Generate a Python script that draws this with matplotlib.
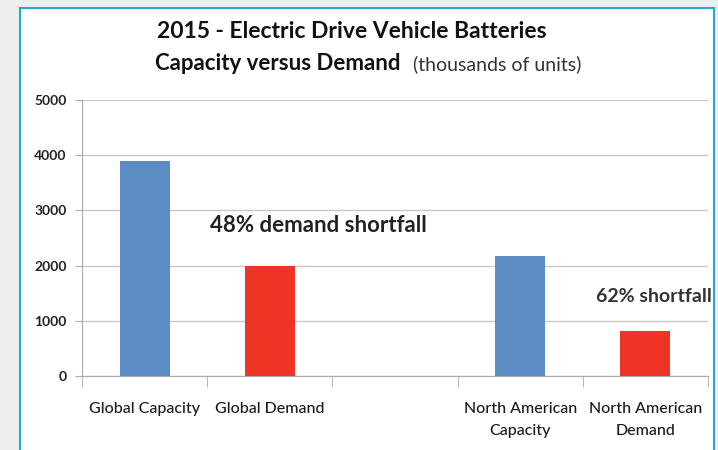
import matplotlib
matplotlib.use("Agg")
import matplotlib.pyplot as plt
from matplotlib.patches import Rectangle

categories = ["Global Capacity", "Global Demand", "", "North American\nCapacity", "North American\nDemand"]
values = [3900, 2000, None, 2180, 810]
colors = ["#5b8cc3", "#ee3424", None, "#5b8cc3", "#ee3424"]
y_ticks = [0, 1000, 2000, 3000, 4000, 5000]

plt.rcParams['font.family'] = ['Lato', 'DejaVu Sans']

fig = plt.figure(figsize=(7.18, 4.5), dpi=100)
fig.patch.set_facecolor("#eeeeee")
# white panel with light-blue frame
fig.patches.append(Rectangle((20/718, -0.05), (714-20)/718, 1 - 8/450 + 0.05,
                             transform=fig.transFigure, facecolor="white",
                             edgecolor="#22aad6", linewidth=1.5, zorder=-5))

ax = fig.add_axes([82/718, 1-376/450, (708-82)/718, (376-100)/450])
ax.set_zorder(2)
ax.set_facecolor("none")
x = list(range(len(categories)))
for i, (v, c) in enumerate(zip(values, colors)):
    if v is not None:
        ax.bar(i, v, width=0.4, color=c, zorder=3)

ax.set_xlim(-0.5, len(categories) - 0.5)
ax.set_ylim(0, 5000)
ax.set_yticks(y_ticks)
ax.set_yticklabels([str(t) for t in y_ticks], fontsize=10, fontweight="bold", color="#222222")
ax.yaxis.grid(True, color="#c8c8c8", linewidth=1, zorder=0)
ax.set_axisbelow(True)
ax.set_xticks(x)
ax.set_xticklabels(categories, fontsize=11.5, fontweight="medium", color="#1a1a1a", linespacing=1.65)
ax.tick_params(axis="x", length=0, pad=19)
ax.set_xticks([i - 0.5 for i in range(len(categories) + 1)], minor=True)
ax.tick_params(axis="x", which="minor", length=8, color="#aaaaaa")
ax.tick_params(axis="y", length=5, color="#aaaaaa", pad=6)
for s in ["top", "right"]:
    ax.spines[s].set_visible(False)
ax.spines["left"].set_color("#aaaaaa")
ax.spines["bottom"].set_color("#aaaaaa")

fig.text(352/718, 1-32/450, "2015 - Electric Drive Vehicle Batteries",
         ha="center", va="center", fontsize=16.5, fontweight="bold", color="#111111")
fig.text(155/718, 1-64/450, "Capacity versus Demand", ha="left", va="center",
         fontsize=16, fontweight="bold", color="#111111")
fig.text(413/718, 1-64/450, "(thousands of units)", ha="left", va="center",
         fontsize=14, color="#333333")

fig.text(318/718, 1-226/450, "48% demand shortfall", ha="center", va="center",
         fontsize=16, fontweight="bold", color="#222222")
fig.text(712/718, 1-297/450, "62% shortfall", ha="right", va="center",
         fontsize=14, fontweight="bold", color="#333333")

fig.savefig("out.png", dpi=100)
